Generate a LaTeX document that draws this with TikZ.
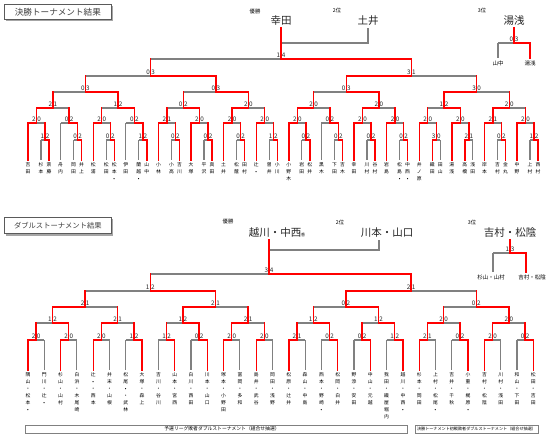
\documentclass[tikz,border=0pt]{standalone}
\usepackage{fontspec}
\setmainfont{Noto Sans CJK JP}
\definecolor{lr}{RGB}{255,0,0}
\definecolor{lg}{RGB}{128,128,128}
\tikzset{
 rl/.style={draw=lr,line width=1.4pt,line cap=rect},
 gl/.style={draw=lg,line width=1.1pt},
 sc/.style={font=\fontsize{6.3}{7}\selectfont,inner sep=0.6pt,text=black!85},
 nm/.style={font=\fontsize{4.8}{5}\selectfont,inner sep=0pt,anchor=north},
 big/.style={font=\fontsize{10.5}{11}\selectfont,inner sep=0pt,text=black!85},
 sml/.style={font=\fontsize{5.5}{6}\selectfont,inner sep=0pt},
 rank/.style={font=\fontsize{5.3}{6}\selectfont,inner sep=0pt},
 ttl/.style={draw=lg!70!black,line width=0.8pt,fill=white,minimum width=107pt,minimum height=15pt,inner sep=0pt,text=black!75},
}
\makeatletter
\def\vstk#1{\vbox{\baselineskip=7pt\lineskiplimit=-20pt\lineskip=0pt\vstk@a#1\vstk@end}}
\def\vstk@a#1#2\vstk@end{\hbox to 0pt{\hss#1\hss}\ifx\relax#2\relax\else\vstk@a#2\vstk@end\fi}
\makeatother
% match: xL, xmid, xR, y, scoreL, scoreR, parent y
\newcommand\mt[7]{%
 \ifdim#5pt>#6pt\relax
   \draw[gl] (#2,#4) -- (#3,#4); \draw[rl] (#1,#4) -- (#2,#4);
 \else
   \draw[gl] (#1,#4) -- (#2,#4); \draw[rl] (#2,#4) -- (#3,#4);
 \fi
 \draw[rl] (#2,#4) -- (#2,#7);
 \node[sc,anchor=south east] at (#2,#4-0.4) {#5};
 \node[sc,anchor=south west] at (#2,#4-0.4) {#6};
}
% leaf: x, ytop, yend, win, name
\newcommand\lf[5]{%
 \ifnum#4=1 \draw[rl] (#1,#2) -- (#1,#3);\else\draw[gl] (#1,#2) -- (#1,#3);\fi
 \node[nm] at (#1,#3+2.5) {\vstk{#5}};
}
% top group: G, sL, sR, subL, subR, bye, A, B
\newcommand\grp[8]{%
 \pgfmathsetmacro\ga{#1-8.5}\pgfmathsetmacro\gb{#1+8.5}%
 \pgfmathsetmacro\gc{#1+4.5}\pgfmathsetmacro\gd{#1+12.5}%
 \mt{\ga}{#1}{\gb}{123}{#2}{#3}{108}%
 \mt{\gc}{\gb}{\gd}{140}{#4}{#5}{123}%
 \ifnum#2>#3 \lf{\ga}{123}{160}{1}{#6}\else\lf{\ga}{123}{160}{0}{#6}\fi
 \ifnum#4>#5 \lf{\gc}{140}{160}{1}{#7}\lf{\gd}{140}{160}{0}{#8}\else\lf{\gc}{140}{160}{0}{#7}\lf{\gd}{140}{160}{1}{#8}\fi
}
% bottom pair: x, sL, sR, A, B
\newcommand\pr[5]{%
 \pgfmathsetmacro\ga{#1-8.15}\pgfmathsetmacro\gb{#1+8.15}%
 \mt{\ga}{#1}{\gb}{340}{#2}{#3}{323}%
 \ifnum#2>#3 \lf{\ga}{340}{370}{1}{#4}\lf{\gb}{340}{370}{0}{#5}\else\lf{\ga}{340}{370}{0}{#4}\lf{\gb}{340}{370}{1}{#5}\fi
}
\begin{document}
\begin{tikzpicture}[x=1pt,y=-1pt]
\useasboundingbox (0,0) rectangle (550,437);
\fill[white] (0,0) rectangle (550,437);
% ===== titles
\fill[lg!70] (5.5,5.5) rectangle (112.5,20.5);
\node[ttl,anchor=north west,font=\fontsize{8.6}{9}\selectfont] (t1) at (4,4) {決勝トーナメント結果};
\fill[lg!70] (5.5,218.5) rectangle (112.5,235.5);
\node[ttl,anchor=north west,minimum height=16pt,font=\fontsize{7.3}{8}\selectfont] (t2) at (4,217) {ダブルストーナメント結果};
% ===== top ranks
\node[rank] (r1) at (255,11) {優勝};
\node[rank] (r2) at (337,10) {2位};
\node[rank] (r3) at (482,10) {3位};
\node[big] (c1) at (281,21) {幸田};
\node[big] (c2) at (368,21) {土井};
\node[big] (c3) at (514,21) {湯浅};
\draw[gl] (281,43) -- (368,43) -- (368,28);
\mt{498}{514}{530}{43}{0}{3}{28}
\draw[gl] (498,43) -- (498,58);
\draw[rl] (530,43) -- (530,58);
\node[sml] (p1) at (498,63.5) {山中};
\node[sml] (p2) at (530,63.5) {湯浅};
% ===== top bracket
\mt{150.6}{281}{411.4}{59}{1}{4}{28}
\mt{85.4}{150.6}{215.8}{76}{0}{3}{59}
\mt{346.2}{411.4}{476.6}{76}{3}{1}{59}
\mt{52.8}{85.4}{118}{92}{0}{3}{76}
\mt{183.2}{215.8}{248.4}{92}{0}{3}{76}
\mt{313.6}{346.2}{378.8}{92}{0}{3}{76}
\mt{444}{476.6}{509.2}{92}{3}{0}{76}
\mt{36.5}{52.8}{69.1}{108}{2}{1}{92}
\mt{101.7}{118}{134.3}{108}{1}{2}{92}
\mt{166.9}{183.2}{199.5}{108}{0}{2}{92}
\mt{232.1}{248.4}{264.7}{108}{2}{0}{92}
\mt{297.3}{313.6}{329.9}{108}{2}{0}{92}
\mt{362.5}{378.8}{395.1}{108}{2}{0}{92}
\mt{427.7}{444}{460.3}{108}{1}{2}{92}
\mt{492.9}{509.2}{525.5}{108}{2}{0}{92}
\grp{36.5}{2}{0}{1}{2}{吉田}{杉本}{斎藤}
\grp{69.1}{0}{2}{0}{2}{舟内}{岡田}{井上}
\grp{101.7}{2}{0}{0}{2}{松浦}{松田}{松本•}
\grp{134.3}{0}{2}{1}{2}{伊田}{蘭越•}{山中}
\grp{166.9}{2}{1}{0}{2}{小林}{小高}{吉川}
\grp{199.5}{2}{0}{0}{2}{大塚}{平沢}{真田}
\grp{232.1}{2}{0}{0}{2}{土井}{松蔭}{田村}
\grp{264.7}{2}{0}{1}{2}{辻•}{曽井}{小川}
\grp{297.3}{2}{0}{0}{2}{小野木}{岩田}{松井}
\grp{329.9}{0}{2}{0}{2}{黒木}{下田}{吉木}
\grp{362.5}{2}{0}{0}{2}{幸田}{川村}{谷村}
\grp{395.1}{2}{0}{0}{2}{岩島}{松島•}{中西•}
\grp{427.7}{2}{0}{3}{0}{井ノ原}{織田}{田山}
\grp{460.3}{2}{0}{2}{1}{湯浅}{高橋}{浅田}
\grp{492.9}{2}{1}{0}{2}{岸本}{吉村}{金丸}
\grp{525.5}{2}{0}{1}{2}{中野}{上村}{西村}
% ===== bottom ranks
\node[rank] (r4) at (228,221) {優勝};
\node[rank] (r5) at (340,222) {2位};
\node[rank] (r6) at (472,222) {3位};
\node[big] (c4) at (275,233) {越川・中西};
\node[inner sep=0pt,font=\fontsize{4}{4}\selectfont] (c4m) at (303,235) {香};
\node[big] (c5) at (387,233) {川本・山口};
\node[big] (c6) at (510,233) {吉村・松陰};
\draw[gl] (269,250) -- (379,250) -- (379,240);
\mt{493}{510}{526}{253}{1}{3}{240}
\draw[gl] (493,253) -- (493,272);
\draw[rl] (526,253) -- (526,272);
\node[sml] (p3) at (491,277) {杉山・山村};
\node[sml] (p4) at (532,277) {吉村・松陰};
% ===== bottom bracket
\mt{150.25}{269}{411.05}{274}{3}{4}{240}
\mt{85.05}{150.25}{215.45}{291}{1}{2}{274}
\mt{345.85}{411.05}{476.25}{291}{2}{1}{274}
\mt{52.45}{85.05}{117.65}{307}{2}{1}{291}
\mt{182.85}{215.45}{248.05}{307}{2}{1}{291}
\mt{313.25}{345.85}{378.45}{307}{0}{2}{291}
\mt{443.65}{476.25}{508.85}{307}{0}{2}{291}
\mt{36.15}{52.45}{68.75}{323}{1}{2}{307}
\mt{101.35}{117.65}{133.95}{323}{2}{1}{307}
\mt{166.55}{182.85}{199.15}{323}{1}{2}{307}
\mt{231.75}{248.05}{264.35}{323}{2}{1}{307}
\mt{296.95}{313.25}{329.55}{323}{1}{2}{307}
\mt{362.15}{378.45}{394.75}{323}{1}{2}{307}
\mt{427.35}{443.65}{459.95}{323}{2}{0}{307}
\mt{492.55}{508.85}{525.15}{323}{2}{0}{307}
\pr{36.15}{2}{0}{隅山・松本•}{門川・辻•}
\pr{68.75}{2}{0}{杉山・山村}{白浜・木尾崎}
\pr{101.35}{2}{0}{辻•・西本}{井末・山根}
\pr{133.95}{1}{2}{松尾•・武林}{大塚・森上}
\pr{166.55}{1}{2}{吉川・谷川}{山本・宮西}
\pr{199.15}{0}{2}{白川・西田}{川本・山口}
\pr{231.75}{2}{0}{塚本・小野田}{富岡・多和}
\pr{264.35}{2}{0}{島井・武谷}{岡田・浅野}
\pr{296.95}{2}{1}{松原・辻井}{森山・中島}
\pr{329.55}{0}{2}{西本・野崎•}{松岡・白井}
\pr{362.15}{0}{2}{野添・安田}{中山・元越}
\pr{394.75}{1}{2}{我田・織屋堀内}{越川・中西•}
\pr{427.35}{2}{1}{杉本・岡田}{上村・松尾•}
\pr{459.95}{0}{2}{吉井・千秋}{小重・梶原•}
\pr{492.55}{2}{0}{吉村・松陰}{川村・浅田}
\pr{525.15}{0}{2}{和山・下田}{松田・吉田}
% ===== bottom captions
\fill[lg!60] (26,426) rectangle (408,434);
\draw[lg,line width=0.8pt,fill=white] (25,425) rectangle (407,433);
\node[inner sep=0pt,font=\fontsize{4.8}{5}\selectfont] (b1) at (222,429) {予選リーグ敗者ダブルストーナメント（組合せ抽選）};
\fill[lg!60] (416,426) rectangle (539,434);
\draw[lg,line width=0.8pt,fill=white] (415,425) rectangle (538,433);
\node[inner sep=0pt,font=\fontsize{4.1}{5}\selectfont] (b2) at (476.5,429) {決勝トーナメント初戦敗者ダブルストーナメント（組合せ抽選）};
\end{tikzpicture}
\end{document}
